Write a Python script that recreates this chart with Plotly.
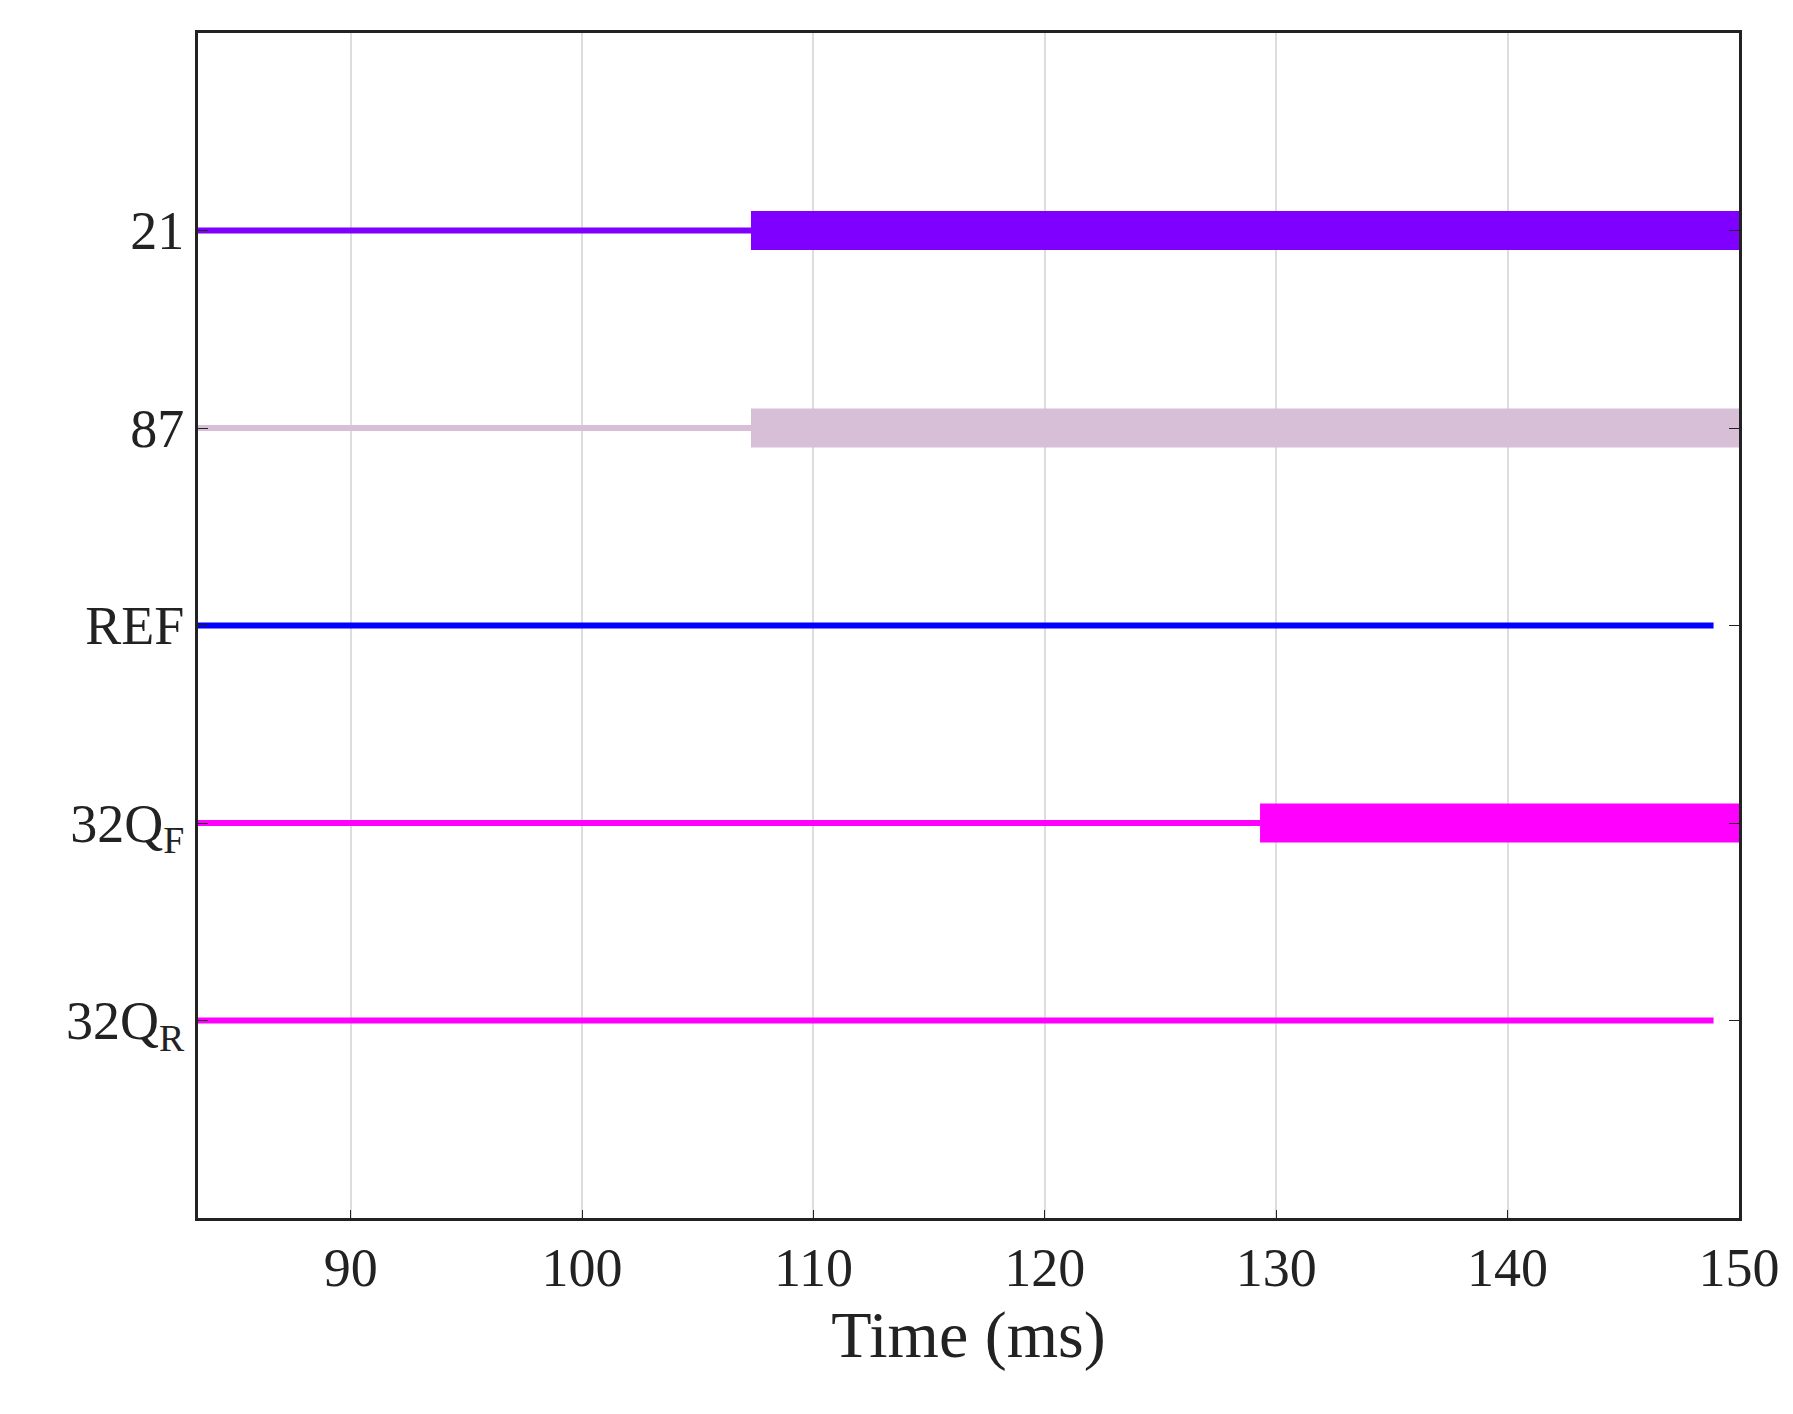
import plotly.graph_objects as go

labels = ["21", "87", "REF", "32Q<sub>F</sub>", "32Q<sub>R</sub>"]
ypos = [5, 4, 3, 2, 1]
colors = ["#7F00FF", "#D8BFD8", "#0000FF", "#FF00FF", "#FF00FF"]
t_start = [83.4, 83.4, 83.4, 83.4, 83.4]
t_trip = [107.3, 107.3, None, 129.3, None]
t_end = [150, 150, 148.9, 150, 148.9]
xticks = [90, 100, 110, 120, 130, 140, 150]

fig = go.Figure()
for lab, y, c, s, tr, e in zip(labels, ypos, colors, t_start, t_trip, t_end):
    thin_end = tr if tr is not None else e
    fig.add_trace(go.Scatter(x=[s, thin_end], y=[y, y], mode="lines",
                             line=dict(color=c, width=6), showlegend=False))
    if tr is not None:
        fig.add_trace(go.Scatter(x=[tr, e], y=[y, y], mode="lines",
                                 line=dict(color=c, width=39), showlegend=False))

font = "Liberation Serif, Times New Roman, serif"
fig.update_layout(
    width=1793, height=1414, plot_bgcolor="white", paper_bgcolor="white",
    margin=dict(l=190, r=62, t=25, b=204),
    font=dict(family=font, color="#222", size=54),
    xaxis=dict(range=[83.4, 150], tickvals=xticks, showgrid=True, gridcolor="#DDDDDD",
               gridwidth=2, showline=True, linecolor="#222", linewidth=3, mirror=True,
               ticks="inside", ticklen=8, tickcolor="#222",
               title=dict(text="Time (ms)", font=dict(size=66), standoff=14), zeroline=False),
    yaxis=dict(range=[0, 6], tickvals=ypos, ticktext=labels, showgrid=False,
               showline=True, linecolor="#222", linewidth=3, mirror="ticks",
               ticks="inside", ticklen=10, tickcolor="#222", zeroline=False),
)
fig.write_html("out.html")
